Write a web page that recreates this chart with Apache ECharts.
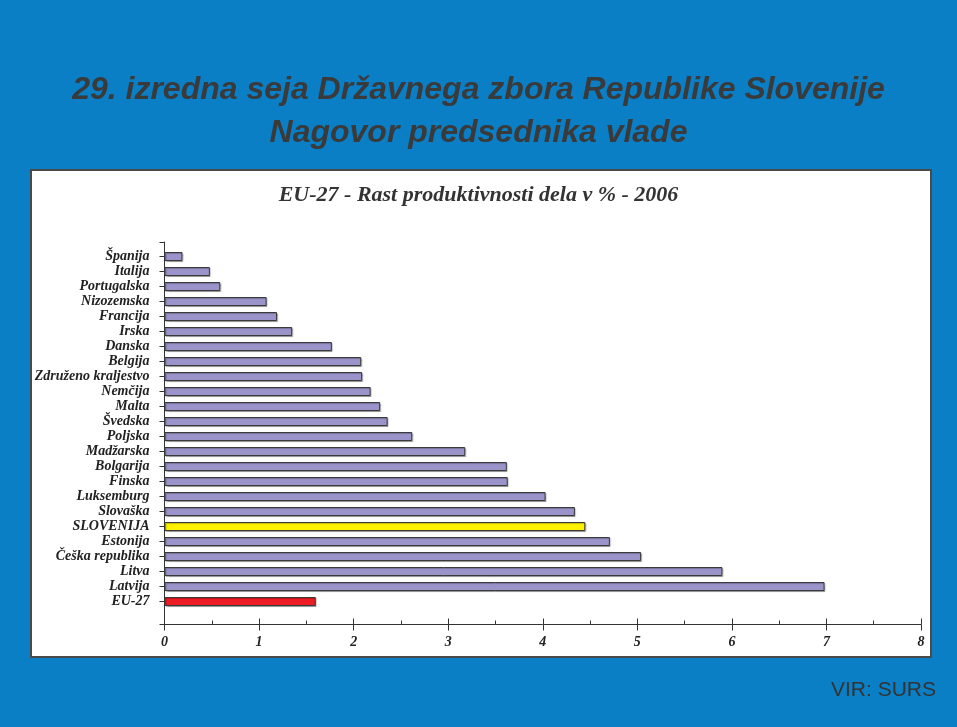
<!DOCTYPE html>
<html>
<head>
<meta charset="utf-8">
<script src="https://cdn.jsdelivr.net/npm/echarts@6/dist/echarts.min.js"></script>
<style>html,body{margin:0;padding:0;background:#0a7fc6;}#c{width:957px;height:727px;}</style>
</head>
<body>
<div id="c"></div>
<script>
var categories = ['Španija','Italija','Portugalska','Nizozemska','Francija','Irska','Danska','Belgija','Združeno kraljestvo','Nemčija','Malta','Švedska','Poljska','Madžarska','Bolgarija','Finska','Luksemburg','Slovaška','SLOVENIJA','Estonija','Češka republika','Litva','Latvija','EU-27'];
var values = [0.19,0.48,0.59,1.08,1.19,1.35,1.77,2.08,2.09,2.18,2.28,2.36,2.62,3.18,3.62,3.63,4.03,4.34,4.45,4.71,5.04,5.9,6.98,1.6];
var xTicks = ['0','1','2','3','4','5','6','7','8'];
var highlight = {'SLOVENIJA':'#fff200','EU-27':'#ed1c24'};
var baseColor = '#9a94ca';

var chart = echarts.init(document.getElementById('c'), null, {renderer:'canvas'});
var serif = '"Liberation Serif","DejaVu Serif",serif';
var sans = '"Liberation Sans",Arial,sans-serif';

var barData = values.map(function(v,i){
  return {value:v, itemStyle:{color: highlight[categories[i]] || baseColor}};
});

chart.setOption({
  backgroundColor:'#0a7fc6',
  animation:false,
  graphic:[{
    type:'rect', z:-10, silent:true,
    shape:{x:31,y:170,width:900,height:487},
    style:{fill:'#ffffff', stroke:'#4a4a4a', lineWidth:2}
  }],
  title:[
    {text:'29. izredna seja Državnega zbora Republike Slovenije\nNagovor predsednika vlade',
     left:'center', top:64,
     textStyle:{fontFamily:sans, fontWeight:'bold', fontStyle:'italic', fontSize:32, lineHeight:43, color:'#3a3a3a',
       textShadowColor:'#ffffff', textShadowOffsetX:1, textShadowOffsetY:2, textShadowBlur:0}},
    {text:'EU-27 - Rast produktivnosti dela v % - 2006', left:'center', top:179,
     textStyle:{fontFamily:serif, fontWeight:'bold', fontStyle:'italic', fontSize:22, color:'#333333'}},
    {text:'VIR: SURS', right:16, top:675,
     textStyle:{fontFamily:sans, fontWeight:'normal', fontSize:21, color:'#333333'}}
  ],
  grid:[
    {left:164.5, right:36, top:249, height:360},
    {left:164.5, right:36, top:242, height:382.5}
  ],
  xAxis:[
    {gridIndex:0, type:'value', min:0, max:8, interval:1, show:false},
    {gridIndex:1, type:'value', position:'bottom', min:0, max:8, interval:1,
     axisLine:{show:true, lineStyle:{color:'#333', width:1}},
     axisTick:{show:true, inside:false, length:6, lineStyle:{color:'#333'}},
     splitLine:{show:false},
     axisLabel:{margin:11, fontFamily:serif, fontWeight:'bold', fontStyle:'italic', fontSize:14, color:'#222',
       formatter:function(v){return xTicks[Math.round(v)];}}},
    {gridIndex:1, type:'value', position:'bottom', min:0, max:8, interval:1,
     axisLine:{show:false},
     axisTick:{show:true, inside:true, length:6, lineStyle:{color:'#333'}},
     minorTick:{show:true, splitNumber:2, length:4, lineStyle:{color:'#333'}},
     splitLine:{show:false}, axisLabel:{show:false}}
  ],
  yAxis:[
    {gridIndex:0, type:'category', inverse:true, data:categories,
     axisLine:{show:false},
     axisTick:{show:true, alignWithLabel:true, interval:0, length:5, lineStyle:{color:'#333'}},
     axisLabel:{interval:0, margin:15, fontFamily:serif, fontWeight:'bold', fontStyle:'italic', fontSize:14, color:'#222'}},
    {gridIndex:1, type:'value', min:0, max:1, interval:1,
     axisLine:{show:true, lineStyle:{color:'#333', width:1}},
     axisTick:{show:true, length:5, lineStyle:{color:'#333'}},
     axisLabel:{show:false}, splitLine:{show:false}}
  ],
  series:[{
    type:'bar', xAxisIndex:0, yAxisIndex:0, data:barData, barWidth:9,
    itemStyle:{borderColor:'#3a3a3a', borderWidth:1,
      shadowColor:'rgba(0,0,0,0.25)', shadowOffsetX:1, shadowOffsetY:1, shadowBlur:1}
  }]
});
</script>
</body>
</html>
